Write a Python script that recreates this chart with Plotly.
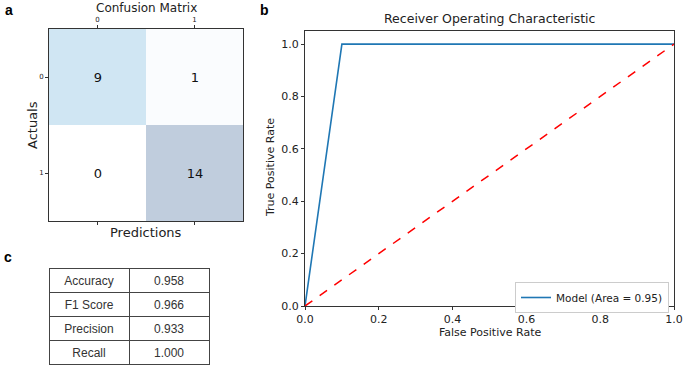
import plotly.graph_objects as go

# ---- data ----
cm_labels = [0, 1]
cm_values = [[9, 1], [0, 14]]
roc_fpr = [0.0, 0.1, 1.0]
roc_tpr = [0.0, 1.0, 1.0]
diag_x = [0.0, 1.0]
diag_y = [0.0, 1.0]
roc_auc = 0.95
metric_names = ["Accuracy", "F1 Score", "Precision", "Recall"]
metric_values = ["0.958", "0.966", "0.933", "1.000"]

W, H = 684, 368
def px(x):
    return x / W
def py(y):
    return 1 - y / H

FONT = "DejaVu Sans"
fig = go.Figure()

# confusion matrix heatmap
fig.add_trace(go.Heatmap(
    z=cm_values, x=cm_labels, y=cm_labels,
    colorscale=[[0, "#ffffff"], [1/14, "#fafcfe"], [9/14, "#d0e6f3"], [1, "#c0cddd"]],
    showscale=False, texttemplate="%{z}", textfont=dict(size=13, color="#111", family=FONT),
    xaxis="x", yaxis="y", hoverinfo="skip",
))

# ROC
fig.add_trace(go.Scatter(
    x=roc_fpr, y=roc_tpr, mode="lines", line=dict(color="#1f77b4", width=1.6),
    name=f"Model (Area = {roc_auc:.2f})", xaxis="x2", yaxis="y2", cliponaxis=False,
))
fig.add_trace(go.Scatter(
    x=diag_x, y=diag_y, mode="lines", line=dict(color="red", width=1.5, dash="dash"),
    showlegend=False, xaxis="x2", yaxis="y2",
))

# metrics table
fig.add_trace(go.Table(
    domain=dict(x=[px(49), px(209)], y=[py(366), py(268)]),
    columnwidth=[1, 1],
    header=dict(values=[metric_names[0], metric_values[0]], height=24,
                align="center", line=dict(color="#444", width=1), fill=dict(color="white"),
                font=dict(family="Liberation Sans", size=12, color="#333")),
    cells=dict(values=[metric_names[1:], metric_values[1:]], height=24,
               align="center", line=dict(color="#444", width=1), fill=dict(color="white"),
               font=dict(family="Liberation Sans", size=12, color="#333")),
))

axis_common = dict(showgrid=False, zeroline=False, linecolor="#333", linewidth=1,
                   ticks="outside", ticklen=3, tickcolor="#333", automargin=False)

fig.update_layout(
    width=W, height=H, margin=dict(l=0, r=0, t=0, b=0, autoexpand=False),
    paper_bgcolor="white", plot_bgcolor="white",
    font=dict(family=FONT, color="#222"),
    xaxis=dict(domain=[px(49), px(243)], anchor="y", side="top", range=[-0.5, 1.5],
               tickvals=cm_labels, tickfont=dict(size=7), mirror="ticks", **axis_common),
    yaxis=dict(domain=[py(221), py(29)], anchor="x", range=[1.5, -0.5],
               tickvals=cm_labels, tickfont=dict(size=7), mirror=True, **axis_common),
    xaxis2=dict(domain=[px(305), px(674)], anchor="y2", range=[0, 1],
                tickvals=[0, 0.2, 0.4, 0.6, 0.8, 1.0], tickformat=".1f",
                tickfont=dict(size=11), mirror=True, **axis_common),
    yaxis2=dict(domain=[py(306), py(31)], anchor="x2", range=[0, 1.05],
                tickvals=[0, 0.2, 0.4, 0.6, 0.8, 1.0], tickformat=".1f",
                tickfont=dict(size=11), mirror=True, **axis_common),
    legend=dict(x=px(669), y=py(282), xanchor="right", yanchor="top",
                bgcolor="white", bordercolor="#ccc", borderwidth=1,
                font=dict(size=10.5), itemwidth=30),
    showlegend=True,
)

ann = [
    dict(text="Confusion Matrix", x=px(146), y=py(8), font=dict(size=12)),
    dict(text="Predictions", x=px(146), y=py(232), font=dict(size=13)),
    dict(text="Actuals", x=px(32), y=py(125), font=dict(size=13), textangle=-90),
    dict(text="Receiver Operating Characteristic", x=px(490), y=py(19), font=dict(size=12.5)),
    dict(text="False Positive Rate", x=px(490), y=py(332), font=dict(size=11)),
    dict(text="True Positive Rate", x=px(270), y=py(168), font=dict(size=11), textangle=-90),
    dict(text="<b>a</b>", x=px(9), y=py(10), font=dict(size=14, family="Liberation Sans", color="#000")),
    dict(text="<b>b</b>", x=px(264), y=py(10), font=dict(size=14, family="Liberation Sans", color="#000")),
    dict(text="<b>c</b>", x=px(8), y=py(257), font=dict(size=14, family="Liberation Sans", color="#000")),
]
for a in ann:
    a.update(xref="paper", yref="paper", showarrow=False, xanchor="center", yanchor="middle")
    fig.add_annotation(**a)

fig.write_html("out.html", config={"displayModeBar": False},
               post_script="document.body.style.margin='0';")
